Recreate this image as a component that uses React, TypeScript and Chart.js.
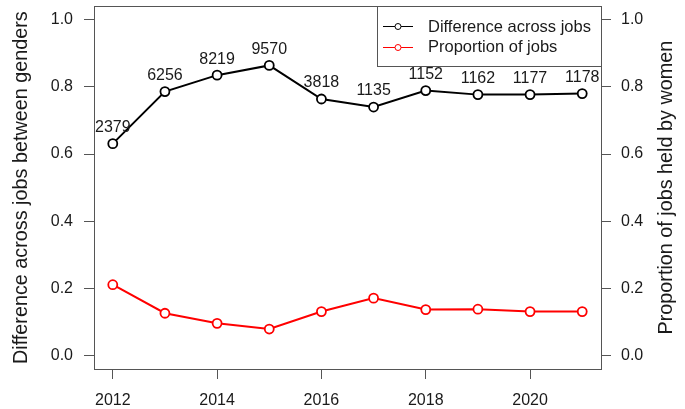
import React, { useEffect, useRef } from "react";
import { Chart, registerables } from "chart.js";

Chart.register(...registerables);

// ---- data ----
const years = [2012, 2013, 2014, 2015, 2016, 2017, 2018, 2019, 2020, 2021];
const differenceAcrossJobs = [0.631, 0.786, 0.835, 0.864, 0.764, 0.74, 0.789, 0.777, 0.777, 0.78];
const proportionOfJobs = [0.211, 0.126, 0.096, 0.079, 0.131, 0.171, 0.137, 0.138, 0.131, 0.131];
const jobCounts = ["2379", "6256", "8219", "9570", "3818", "1135", "1152", "1162", "1177", "1178"];
const yTickValues = [0, 0.2, 0.4, 0.6, 0.8, 1.0];
const xTickValues = [2012, 2014, 2016, 2018, 2020];
const seriesLabels = ["Difference across jobs", "Proportion of jobs"];
const leftTitle = "Difference across jobs between genders";
const rightTitle = "Proportion of jobs held by women";

const FONT = "'Liberation Sans', Arial, sans-serif";
const TEXT = "#1a1a1a";
const AXIS = "#555555";

const rPlugin = {
  id: "rStyle",
  afterDatasetsDraw(chart: any) {
    const { ctx } = chart;
    const meta = chart.getDatasetMeta(0);
    ctx.save();
    ctx.fillStyle = TEXT;
    ctx.font = `16px ${FONT}`;
    ctx.textAlign = "center";
    ctx.textBaseline = "middle";
    meta.data.forEach((pt: any, i: number) => {
      ctx.fillText(jobCounts[i], pt.x, pt.y - 16);
    });
    ctx.restore();
  },
  afterDraw(chart: any) {
    const { ctx, chartArea: a } = chart;
    ctx.save();
    // plot box
    ctx.strokeStyle = AXIS;
    ctx.lineWidth = 1;
    ctx.strokeRect(Math.round(a.left) + 0.5, Math.round(a.top) + 0.5, Math.round(a.right - a.left), Math.round(a.bottom - a.top));

    // legend
    const lx = 377.5;
    const ly = Math.round(a.top) + 0.5;
    const lw = Math.round(a.right) + 0.5 - lx;
    const lh = 60;
    ctx.fillStyle = "#ffffff";
    ctx.fillRect(lx, ly, lw, lh);
    ctx.strokeStyle = AXIS;
    ctx.strokeRect(lx, ly, lw, lh);
    const rows = [26, 46.5];
    chart.data.datasets.forEach((ds: any, i: number) => {
      const y = Math.round(rows[i]) + 0.5;
      ctx.strokeStyle = ds.borderColor;
      ctx.lineWidth = 1;
      ctx.beginPath();
      ctx.moveTo(383, y);
      ctx.lineTo(413, y);
      ctx.stroke();
      ctx.fillStyle = "#fff";
      ctx.beginPath();
      ctx.arc(398, y, 3, 0, Math.PI * 2);
      ctx.fill();
      ctx.stroke();
      ctx.fillStyle = TEXT;
      ctx.font = `16.5px ${FONT}`;
      ctx.textAlign = "left";
      ctx.textBaseline = "middle";
      ctx.fillText(ds.label, 428, rows[i] + 1);
    });

    // right axis title (reads bottom-to-top as in the reference)
    ctx.save();
    ctx.translate(667, (a.top + a.bottom) / 2);
    ctx.rotate(-Math.PI / 2);
    ctx.fillStyle = TEXT;
    ctx.font = `19.8px ${FONT}`;
    ctx.textAlign = "center";
    ctx.textBaseline = "middle";
    ctx.fillText(rightTitle, 0, 0);
    ctx.restore();
    ctx.restore();
  },
};

export default function App() {
  const ref = useRef<HTMLCanvasElement | null>(null);

  useEffect(() => {
    if (!ref.current) return;
    const tickFont = { family: FONT, size: 16 };
    const yScaleBase = {
      type: "linear" as const,
      min: -0.04,
      max: 1.04,
      border: { display: false },
      grid: { drawOnChartArea: false, drawTicks: true, tickLength: 10, color: AXIS, lineWidth: 1 },
      afterBuildTicks: (s: any) => {
        s.ticks = yTickValues.map((v) => ({ value: v }));
      },
    };
    const chart = new Chart(ref.current, {
      type: "line",
      data: {
        datasets: [
          {
            label: seriesLabels[0],
            data: years.map((x, i) => ({ x, y: differenceAcrossJobs[i] })),
            borderColor: "#000000",
            backgroundColor: "#ffffff",
            borderWidth: 2,
            pointRadius: 4.5,
            pointBorderWidth: 1.8,
            pointBackgroundColor: "#ffffff",
            pointBorderColor: "#000000",
            tension: 0,
            yAxisID: "y",
          },
          {
            label: seriesLabels[1],
            data: years.map((x, i) => ({ x, y: proportionOfJobs[i] })),
            borderColor: "#ff0000",
            backgroundColor: "#ffffff",
            borderWidth: 2,
            pointRadius: 4.5,
            pointBorderWidth: 1.8,
            pointBackgroundColor: "#ffffff",
            pointBorderColor: "#ff0000",
            tension: 0,
            yAxisID: "y2",
          },
        ],
      },
      options: {
        responsive: false,
        animation: false,
        layout: { padding: { top: 6, left: 0, right: 0, bottom: 0 } },
        plugins: { legend: { display: false }, tooltip: { enabled: false } },
        scales: {
          x: {
            type: "linear",
            position: "bottom",
            min: 2011.64,
            max: 2021.36,
            border: { display: false },
            grid: { drawOnChartArea: false, drawTicks: true, tickLength: 10, color: AXIS, lineWidth: 1 },
            ticks: { font: tickFont, color: TEXT, padding: 12, maxRotation: 0, callback: (v: any) => String(v) },
            afterBuildTicks: (s: any) => {
              s.ticks = xTickValues.map((v) => ({ value: v }));
            },
            afterFit: (s: any) => {
              s.height = 40;
              s.paddingLeft = 0;
              s.paddingRight = 0;
            },
          },
          y: {
            ...yScaleBase,
            position: "left",
            ticks: { font: tickFont, color: TEXT, padding: 11, callback: (v: any) => Number(v).toFixed(1) },
            title: {
              display: true,
              text: leftTitle,
              color: TEXT,
              font: { family: FONT, size: 19.8 },
              padding: { top: 10, bottom: 0 },
            },
            afterFit: (s: any) => {
              s.width = 94;
              s.paddingTop = 0;
              s.paddingBottom = 0;
            },
          },
          y2: {
            ...yScaleBase,
            position: "right",
            ticks: { font: tickFont, color: TEXT, padding: 10, callback: (v: any) => Number(v).toFixed(1) },
            afterFit: (s: any) => {
              s.width = 84;
              s.paddingTop = 0;
              s.paddingBottom = 0;
            },
          },
        },
      },
      plugins: [rPlugin],
    } as any);
    return () => chart.destroy();
  }, []);

  return (
    <div style={{ position: "absolute", left: 0, top: 0, width: 685, height: 409, background: "#fff" }}>
      <canvas ref={ref} width={685} height={409} style={{ display: "block" }} />
    </div>
  );
}
